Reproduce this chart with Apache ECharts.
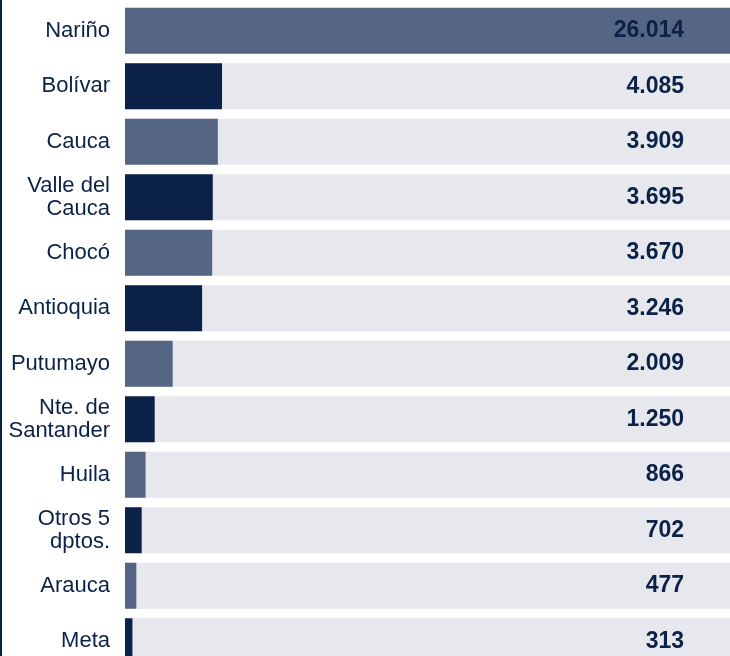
<!DOCTYPE html>
<html>
<head>
<meta charset="utf-8">
<script src="https://cdn.jsdelivr.net/npm/echarts@6/dist/echarts.min.js"></script>
<style>
  html, body { margin: 0; padding: 0; background: #fff; }
  #chart { width: 730px; height: 656px; }
</style>
</head>
<body>
<div id="chart"></div>
<script>
// departamentos, de arriba hacia abajo
const categories = ['Nariño', 'Bolívar', 'Cauca', 'Valle del\nCauca', 'Chocó', 'Antioquia',
  'Putumayo', 'Nte. de\nSantander', 'Huila', 'Otros 5\ndptos.', 'Arauca', 'Meta']
const values = [26014, 4085, 3909, 3695, 3670, 3246, 2009, 1250, 866, 702, 477, 313]
const colors = ['#546684', '#0b2148']

// separador de miles con punto
function fmt (v) {
  return String(v).replace(/\B(?=(\d{3})+(?!\d))/g, '.')
}

const chart = echarts.init(document.getElementById('chart'))
const font = "'Liberation Sans', Arial, sans-serif"

chart.setOption({
  animation: false,
  grid: { left: 125, top: 3, width: 605, height: 666, outerBoundsMode: 'none', containLabel: false },
  xAxis: {
    type: 'value',
    min: 0,
    max: 25470,
    show: false
  },
  yAxis: [
    {
      type: 'category',
      inverse: true,
      data: categories,
      axisLine: { show: false },
      axisTick: { show: false },
      axisLabel: {
        margin: 15,
        fontFamily: font,
        fontSize: 22,
        lineHeight: 23,
        color: '#0b2148'
      }
    },
    {
      type: 'category',
      inverse: true,
      position: 'right',
      z: 10,
      data: values.map(fmt),
      axisLine: { show: false },
      axisTick: { show: false },
      axisLabel: {
        inside: true,
        margin: 46,
        fontFamily: font,
        fontSize: 23,
        fontWeight: 'bold',
        color: '#0b2148',
        padding: [14, 0, 0, 0]
      }
    }
  ],
  series: [
    {
      type: 'bar',
      barWidth: 46,
      clip: true,
      showBackground: true,
      backgroundStyle: { color: '#e6e8ed' },
      data: values.map((v, i) => ({
        value: v,
        itemStyle: { color: colors[i % 2] }
      }))
    }
  ],
  graphic: [
    {
      type: 'rect',
      shape: { x: 0, y: 0, width: 2, height: 656 },
      style: { fill: '#0b2148' }
    }
  ]
})
</script>
</body>
</html>
